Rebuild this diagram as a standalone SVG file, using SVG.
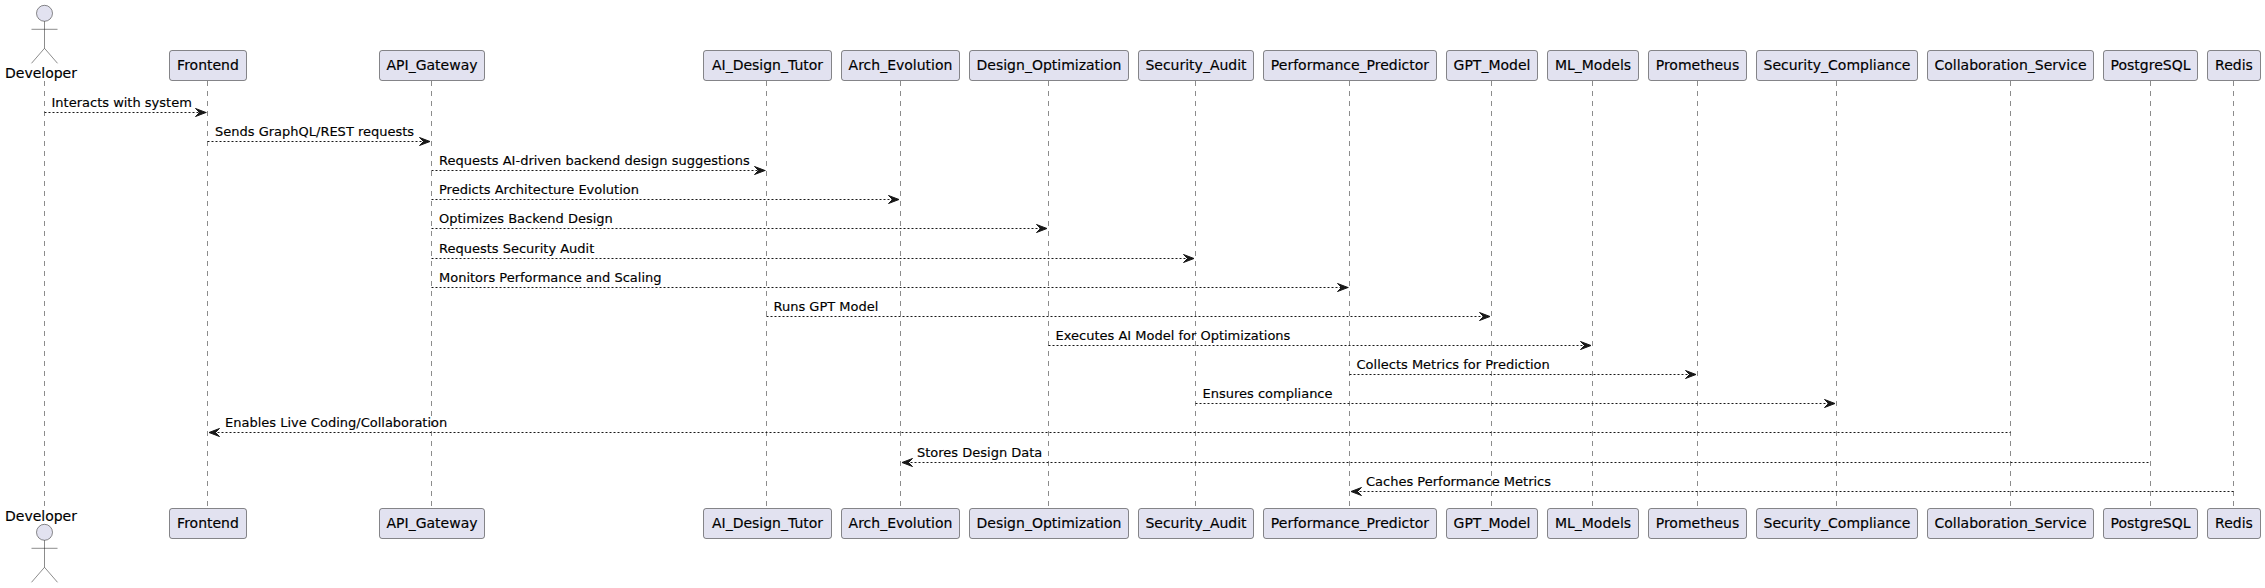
<svg xmlns="http://www.w3.org/2000/svg" width="2265" height="588" viewBox="0 0 2265 588">
<style>
text{font-family:"DejaVu Sans",sans-serif;fill:#000;stroke:#000;stroke-width:.15}
.p{font-size:14px;text-anchor:middle}
.m{font-size:13px}
.b{fill:#E2E2F0;stroke:#181818;stroke-width:.5}
.l{stroke:#181818;stroke-width:.5;stroke-dasharray:5,5;fill:none}
.c{stroke:#181818;stroke-width:1;stroke-dasharray:2,2;fill:none}
.a{fill:#181818;stroke:#181818;stroke-width:1}
.s{fill:none;stroke:#181818;stroke-width:.5}
</style>
<defs>
<g id="actor"><circle class="b" cx="0" cy="8" r="8"/><path class="s" d="M0 16V43M-13 24H13M0 43L-13 58M0 43L13 58"/></g>
<path id="ar" class="a" d="M-12 -4L-1.5 0L-12 4L-8 0Z"/>
<path id="al" class="a" d="M12 -4L1.5 0L12 4L8 0Z"/>
</defs>
<g id="lifelines">
<path class="l" d="M44.5 81V508M207.5 81V508M431.5 81V508M766.5 81V508M900.5 81V508M1048.5 81V508M1195.5 81V508M1349.5 81V508M1491.5 81V508M1592.5 81V508M1697.5 81V508M1836.5 81V508M2010.5 81V508M2150.5 81V508M2233.5 81V508"/>
</g>
<g id="Developer"><use href="#actor" x="44.5" y="5.3"/><text class="p" x="41" y="77.5">Developer</text><use href="#actor" x="44.5" y="524.3"/><text class="p" x="41" y="521">Developer</text></g>
<g id="Frontend"><rect class="b" x="169.5" y="50.5" width="77" height="30" rx="2.5"/><text class="p" x="208" y="70">Frontend</text><rect class="b" x="169.5" y="508.5" width="77" height="30" rx="2.5"/><text class="p" x="208" y="528">Frontend</text></g>
<g id="API_Gateway"><rect class="b" x="379.5" y="50.5" width="105" height="30" rx="2.5"/><text class="p" x="432" y="70">API_Gateway</text><rect class="b" x="379.5" y="508.5" width="105" height="30" rx="2.5"/><text class="p" x="432" y="528">API_Gateway</text></g>
<g id="AI_Design_Tutor"><rect class="b" x="703.5" y="50.5" width="128" height="30" rx="2.5"/><text class="p" x="767.5" y="70">AI_Design_Tutor</text><rect class="b" x="703.5" y="508.5" width="128" height="30" rx="2.5"/><text class="p" x="767.5" y="528">AI_Design_Tutor</text></g>
<g id="Arch_Evolution"><rect class="b" x="841.5" y="50.5" width="118" height="30" rx="2.5"/><text class="p" x="900.5" y="70">Arch_Evolution</text><rect class="b" x="841.5" y="508.5" width="118" height="30" rx="2.5"/><text class="p" x="900.5" y="528">Arch_Evolution</text></g>
<g id="Design_Optimization"><rect class="b" x="969.5" y="50.5" width="159" height="30" rx="2.5"/><text class="p" x="1049" y="70">Design_Optimization</text><rect class="b" x="969.5" y="508.5" width="159" height="30" rx="2.5"/><text class="p" x="1049" y="528">Design_Optimization</text></g>
<g id="Security_Audit"><rect class="b" x="1138.5" y="50.5" width="115" height="30" rx="2.5"/><text class="p" x="1196" y="70">Security_Audit</text><rect class="b" x="1138.5" y="508.5" width="115" height="30" rx="2.5"/><text class="p" x="1196" y="528">Security_Audit</text></g>
<g id="Performance_Predictor"><rect class="b" x="1263.5" y="50.5" width="173" height="30" rx="2.5"/><text class="p" x="1350" y="70">Performance_Predictor</text><rect class="b" x="1263.5" y="508.5" width="173" height="30" rx="2.5"/><text class="p" x="1350" y="528">Performance_Predictor</text></g>
<g id="GPT_Model"><rect class="b" x="1446.5" y="50.5" width="91" height="30" rx="2.5"/><text class="p" x="1492" y="70">GPT_Model</text><rect class="b" x="1446.5" y="508.5" width="91" height="30" rx="2.5"/><text class="p" x="1492" y="528">GPT_Model</text></g>
<g id="ML_Models"><rect class="b" x="1547.5" y="50.5" width="91" height="30" rx="2.5"/><text class="p" x="1593" y="70">ML_Models</text><rect class="b" x="1547.5" y="508.5" width="91" height="30" rx="2.5"/><text class="p" x="1593" y="528">ML_Models</text></g>
<g id="Prometheus"><rect class="b" x="1648.5" y="50.5" width="98" height="30" rx="2.5"/><text class="p" x="1697.5" y="70">Prometheus</text><rect class="b" x="1648.5" y="508.5" width="98" height="30" rx="2.5"/><text class="p" x="1697.5" y="528">Prometheus</text></g>
<g id="Security_Compliance"><rect class="b" x="1756.5" y="50.5" width="161" height="30" rx="2.5"/><text class="p" x="1837" y="70">Security_Compliance</text><rect class="b" x="1756.5" y="508.5" width="161" height="30" rx="2.5"/><text class="p" x="1837" y="528">Security_Compliance</text></g>
<g id="Collaboration_Service"><rect class="b" x="1927.5" y="50.5" width="166" height="30" rx="2.5"/><text class="p" x="2010.5" y="70">Collaboration_Service</text><rect class="b" x="1927.5" y="508.5" width="166" height="30" rx="2.5"/><text class="p" x="2010.5" y="528">Collaboration_Service</text></g>
<g id="PostgreSQL"><rect class="b" x="2103.5" y="50.5" width="94" height="30" rx="2.5"/><text class="p" x="2150.5" y="70">PostgreSQL</text><rect class="b" x="2103.5" y="508.5" width="94" height="30" rx="2.5"/><text class="p" x="2150.5" y="528">PostgreSQL</text></g>
<g id="Redis"><rect class="b" x="2207.5" y="50.5" width="53" height="30" rx="2.5"/><text class="p" x="2234" y="70">Redis</text><rect class="b" x="2207.5" y="508.5" width="53" height="30" rx="2.5"/><text class="p" x="2234" y="528">Redis</text></g>
<g id="connectors">
<path class="c" d="M44.5 112.5H206.5M207.5 141.5H430.5M431.5 170.5H765.5M431.5 199.5H899.5M431.5 228.5H1047.5M431.5 258.5H1194.5M431.5 287.5H1348.5M766.5 316.5H1490.5M1048.5 345.5H1591.5M1349.5 374.5H1696.5M1195.5 403.5H1835.5M209.5 432.5H2010.5M902.5 462.5H2150.5M1351.5 491.5H2233.5"/>
<use href="#ar" x="207.5" y="112.5"/>
<use href="#ar" x="431.5" y="141.5"/>
<use href="#ar" x="766.5" y="170.5"/>
<use href="#ar" x="900.5" y="199.5"/>
<use href="#ar" x="1048.5" y="228.5"/>
<use href="#ar" x="1195.5" y="258.5"/>
<use href="#ar" x="1349.5" y="287.5"/>
<use href="#ar" x="1491.5" y="316.5"/>
<use href="#ar" x="1592.5" y="345.5"/>
<use href="#ar" x="1697.5" y="374.5"/>
<use href="#ar" x="1836.5" y="403.5"/>
<use href="#al" x="207.5" y="432.5"/>
<use href="#al" x="900.5" y="462.5"/>
<use href="#al" x="1349.5" y="491.5"/>
<text class="m" x="51.5" y="107">Interacts with system</text>
<text class="m" x="215" y="136">Sends GraphQL/REST requests</text>
<text class="m" x="439" y="165">Requests AI-driven backend design suggestions</text>
<text class="m" x="439" y="194">Predicts Architecture Evolution</text>
<text class="m" x="439" y="223">Optimizes Backend Design</text>
<text class="m" x="439" y="253">Requests Security Audit</text>
<text class="m" x="439" y="282">Monitors Performance and Scaling</text>
<text class="m" x="773.5" y="311">Runs GPT Model</text>
<text class="m" x="1055.5" y="340">Executes AI Model for Optimizations</text>
<text class="m" x="1356.5" y="369">Collects Metrics for Prediction</text>
<text class="m" x="1202.5" y="398">Ensures compliance</text>
<text class="m" x="225" y="427">Enables Live Coding/Collaboration</text>
<text class="m" x="917" y="457">Stores Design Data</text>
<text class="m" x="1366" y="486">Caches Performance Metrics</text>
</g>
</svg>
